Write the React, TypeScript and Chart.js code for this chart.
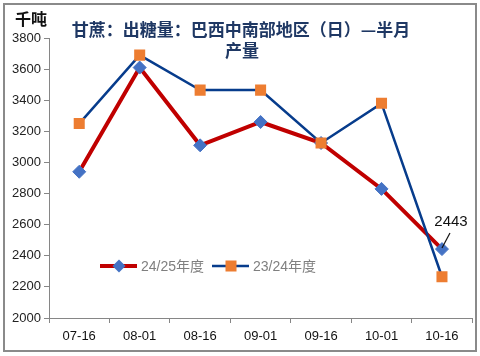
import React, { useEffect, useRef } from "react";
import { Chart, registerables } from "chart.js";

Chart.register(...registerables);

const categories = ["07-16", "08-01", "08-16", "09-01", "09-16", "10-01", "10-16"];
const season2425 = [2940, 3610, 3110, 3260, 3125, 2830, 2443];
const season2324 = [3250, 3690, 3465, 3465, 3125, 3380, 2265];
const seriesNames = ["24/25年度", "23/24年度"];
const yTicks = [2000, 2200, 2400, 2600, 2800, 3000, 3200, 3400, 3600, 3800];
const titleLines = ["甘蔗：出糖量：巴西中南部地区（日）—半月", "产量"];
const unitLabel = "千吨";
const labelIndex = 6;

const RED = "#C00000";
const NAVY = "#073C8C";
const BLUE = "#4472C4";
const ORANGE = "#ED7D31";

const overlayPlugin = {
  id: "overlay",
  afterDraw(chart: any) {
    const ctx = chart.ctx as CanvasRenderingContext2D;
    ctx.save();
    // border
    ctx.strokeStyle = "#8a8a8a";
    ctx.lineWidth = 2;
    ctx.strokeRect(4, 4, 472, 347);
    // unit
    ctx.fillStyle = "#111";
    ctx.font = "bold 16px 'Noto Sans CJK SC'";
    ctx.textAlign = "left";
    ctx.textBaseline = "middle";
    ctx.fillText(unitLabel, 15, 19);
    // title
    ctx.fillStyle = "#1F3864";
    ctx.font = "bold 17px 'Noto Sans CJK SC'";
    ctx.textAlign = "center";
    ctx.fillText(titleLines[0], 241, 30);
    ctx.fillText(titleLines[1], 242, 51);
    // legend
    const ly = 266;
    const items = [
      { x: 100, color: RED, lw: 4, marker: "diamond", mc: BLUE, name: seriesNames[0] },
      { x: 212, color: NAVY, lw: 2.5, marker: "square", mc: ORANGE, name: seriesNames[1] },
    ];
    for (const it of items) {
      ctx.strokeStyle = it.color;
      ctx.lineWidth = it.lw;
      ctx.beginPath();
      ctx.moveTo(it.x, ly);
      ctx.lineTo(it.x + 37, ly);
      ctx.stroke();
      const cx = it.x + 19;
      ctx.fillStyle = it.mc;
      if (it.marker === "diamond") {
        ctx.beginPath();
        ctx.moveTo(cx, ly - 6.5);
        ctx.lineTo(cx + 6.5, ly);
        ctx.lineTo(cx, ly + 6.5);
        ctx.lineTo(cx - 6.5, ly);
        ctx.closePath();
        ctx.fill();
      } else {
        ctx.fillRect(cx - 5.5, ly - 5.5, 11, 11);
      }
      ctx.fillStyle = "#7f7f7f";
      ctx.font = "14px 'Liberation Sans', 'Noto Sans CJK SC'";
      ctx.textAlign = "left";
      ctx.fillText(it.name, it.x + 41, ly + 1);
    }
    // data label with leader line
    const meta = chart.getDatasetMeta(0);
    const pt = meta.data[labelIndex];
    if (pt) {
      ctx.strokeStyle = "#111";
      ctx.lineWidth = 1.2;
      ctx.beginPath();
      ctx.moveTo(pt.x + 8, pt.y - 16);
      ctx.lineTo(pt.x, pt.y - 1);
      ctx.stroke();
      ctx.fillStyle = "#111";
      ctx.font = "15px 'Liberation Sans'";
      ctx.textAlign = "center";
      ctx.fillText(String(season2425[labelIndex]), pt.x + 9, pt.y - 27);
    }
    ctx.restore();
  },
};

export default function App() {
  const ref = useRef<HTMLCanvasElement | null>(null);
  useEffect(() => {
    if (!ref.current) return;
    const chart = new Chart(ref.current, {
      type: "line",
      data: {
        labels: categories,
        datasets: [
          {
            label: seriesNames[0],
            data: season2425,
            borderColor: RED,
            borderWidth: 4,
            pointStyle: "rectRot",
            pointRadius: 6.5,
            pointBackgroundColor: BLUE,
            pointBorderColor: BLUE,
            pointBorderWidth: 1,
            order: 1,
          },
          {
            label: seriesNames[1],
            data: season2324,
            borderColor: NAVY,
            borderWidth: 2.5,
            pointStyle: "rect",
            pointRadius: 7.8,
            pointBackgroundColor: ORANGE,
            pointBorderColor: ORANGE,
            pointBorderWidth: 0,
            order: 0,
          },
        ],
      },
      options: {
        animation: false,
        responsive: false,
        layout: { padding: { left: 0, top: 38, right: 6, bottom: 0 } },
        plugins: { legend: { display: false }, title: { display: false }, tooltip: { enabled: false } },
        scales: {
          x: {
            offset: true,
            grid: { offset: true, drawOnChartArea: false, drawTicks: true, tickLength: 5, color: "#868686" },
            border: { color: "#868686", width: 1 },
            ticks: { color: "#111", font: { family: "'Liberation Sans'", size: 13 }, padding: 6, maxRotation: 0 },
            afterFit: (s: any) => { s.height = 38; },
          },
          y: {
            min: 2000,
            max: 3800,
            afterBuildTicks: (s: any) => { s.ticks = yTicks.map((v) => ({ value: v })); },
            grid: { drawOnChartArea: false, drawTicks: true, tickLength: 5, color: "#868686" },
            border: { color: "#868686", width: 1 },
            ticks: {
              color: "#222",
              font: { family: "'Liberation Sans'", size: 13 },
              padding: 3,
              callback: (v: any) => String(v),
            },
            afterFit: (s: any) => { s.width = 49; },
          },
        },
      },
      plugins: [overlayPlugin],
    });
    return () => chart.destroy();
  }, []);
  return (
    <div style={{ position: "absolute", left: 0, top: 0, width: 480, height: 356, background: "#fff" }}>
      <canvas ref={ref} width={480} height={356} style={{ display: "block" }} />
    </div>
  );
}
